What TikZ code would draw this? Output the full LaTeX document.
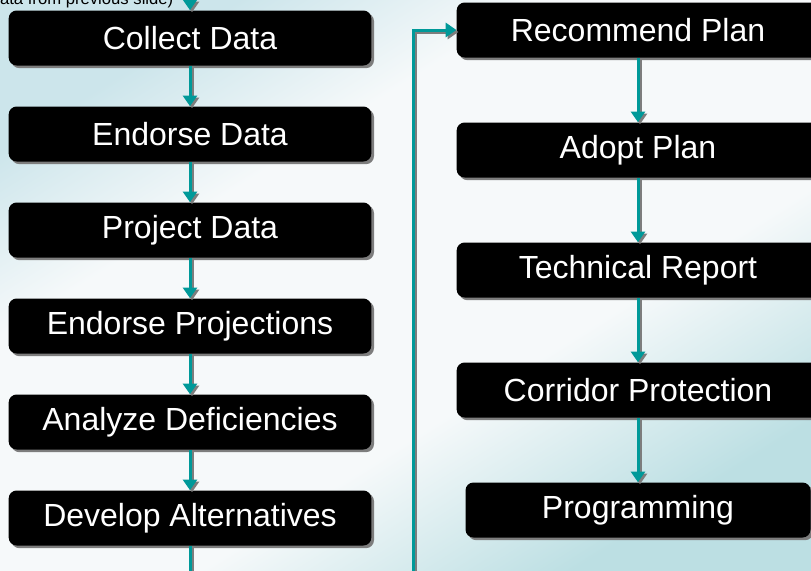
\documentclass[tikz,border=0pt]{standalone}
\usepackage{fontspec}
\setmainfont{Liberation Sans}
\usetikzlibrary{arrows.meta,shadows}
\definecolor{flowteal}{RGB}{0,153,153}
\definecolor{shadowgray}{RGB}{125,125,125}
\definecolor{bgblue}{RGB}{204,229,235}
\definecolor{bgwhite}{RGB}{246,249,250}
\definecolor{bgteal}{RGB}{188,223,227}
\pgfdeclarehorizontalshading{slidebg}{100bp}{color(0bp)=(bgblue); color(25bp)=(bgblue);
  color(37bp)=(bgwhite); color(60bp)=(bgwhite); color(75bp)=(bgteal); color(100bp)=(bgteal)}
\tikzset{
  stepbox/.style={rectangle, rounded corners=6pt, fill=black, text=white,
    minimum width=272pt, minimum height=41.25pt, inner sep=0pt,
    font=\fontsize{24}{28}\selectfont,
    drop shadow={shadow xshift=2pt, shadow yshift=-2pt, fill=shadowgray, opacity=1}},
  shortbox/.style={stepbox, minimum width=258.75pt},
  flow/.style={draw=flowteal, line width=2.25pt, -{Triangle[width=10.5pt,length=8pt]},
    preaction={draw=shadowgray, line width=2.25pt, -{Triangle[width=10.5pt,length=8pt]},
      transform canvas={shift={(1.5pt,-1.5pt)}}}},
  flowline/.style={draw=flowteal, line width=2.25pt,
    preaction={draw=shadowgray, line width=2.25pt,
      transform canvas={shift={(1.5pt,-1.5pt)}}}}
}
\begin{document}
\begin{tikzpicture}[x=0.75pt,y=-0.75pt]
\useasboundingbox (0,0) rectangle (811,571);
\clip (0,0) rectangle (811,571);
\shade [shading=slidebg, shading angle=-58] (0,0) rectangle (811,571);
\node [anchor=base east, font=\fontsize{12.5}{14}\selectfont] (prevnote) at (178,4.5) {(Data from previous slide)};
\coordinate (intop) at (190,-4);
\node [stepbox] (collect) at (190,38) {Collect Data};
\node [stepbox] (endorse) at (190,134) {Endorse Data};
\node [stepbox] (project) at (190,230) {Project Data};
\node [stepbox] (endproj) at (190,326) {Endorse Projections};
\node [stepbox] (analyze) at (190,422) {Analyze Deficiencies};
\node [stepbox] (develop) at (190,518) {Develop Alternatives};
\coordinate (leftout) at (190,585);
\coordinate (riseout) at (413,585);
\node [stepbox] (recommend) at (638,30) {Recommend Plan};
\node [stepbox] (adopt) at (638,150) {Adopt Plan};
\node [stepbox] (techrep) at (638,270) {Technical Report};
\node [stepbox] (corridor) at (638,390) {Corridor Protection};
\node [shortbox] (program) at (638,510) {Programming};
\draw [flow] (intop) -- (collect);
\draw [flow] (collect) -- (endorse);
\draw [flow] (endorse) -- (project);
\draw [flow] (project) -- (endproj);
\draw [flow] (endproj) -- (analyze);
\draw [flow] (analyze) -- (develop);
\draw [flowline] (develop) -- (leftout);
\draw [flow] (riseout) |- (recommend);
\draw [flow] (recommend) -- (adopt);
\draw [flow] (adopt) -- (techrep);
\draw [flow] (techrep) -- (corridor);
\draw [flow] (corridor) -- (program);
\end{tikzpicture}
\end{document}
